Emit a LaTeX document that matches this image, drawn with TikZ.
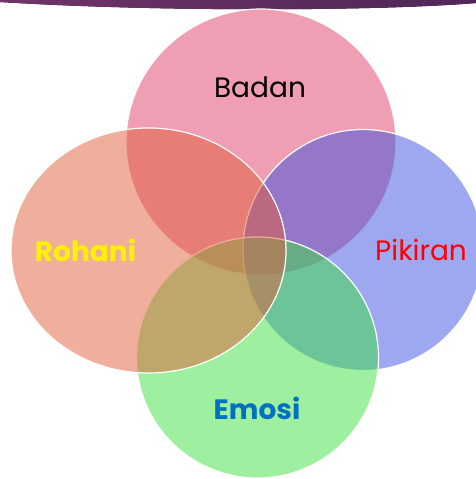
\documentclass[tikz,border=0pt]{standalone}
\usepackage{fontspec}
\setmainfont{Poppins}
\usetikzlibrary{shapes.geometric}
\definecolor{bandleft}{RGB}{112,52,104}
\definecolor{bandright}{RGB}{80,38,88}
\definecolor{badanfill}{RGB}{225,61,105}
\definecolor{rohanifill}{RGB}{225,93,57}
\definecolor{pikiranfill}{RGB}{59,81,225}
\definecolor{emosifill}{RGB}{61,225,65}
\definecolor{emosiblue}{RGB}{0,112,192}
\begin{document}
\begin{tikzpicture}[x=1pt, y=-1pt]
\tikzstyle{setshape}=[ellipse, draw=white, line width=1.2pt, fill opacity=0.5, inner sep=0pt, outer sep=0pt]
\tikzstyle{setlabel}=[font=\fontsize{28}{30}\selectfont, inner sep=0pt]
\useasboundingbox (0,0) rectangle (476,479);
% band along the top
\fill[left color=bandleft, right color=bandright] (0,0) -- (476,0) -- (476,3)
      .. controls (380,11) and (160,12) .. (0,2) -- cycle;
% the four sets
\node[setshape, fill=badanfill, minimum width=270pt, minimum height=266pt] (badan) at (261,142) {};
\node[setshape, fill=pikiranfill, minimum width=240pt, minimum height=241pt] (pikiran) at (363,250) {};
\node[setshape, fill=emosifill, minimum width=242pt, minimum height=241pt] (emosi) at (257.5,357.5) {};
\node[setshape, fill=rohanifill, minimum width=275pt, minimum height=245pt] (rohani) at (148.5,250.5) {};
% labels
\node[setlabel] (badanlabel) at (260,87) {Badan};
\node[setlabel, text=red] (pikiranlabel) at (421,250) {Pikiran};
\node[setlabel, text=emosiblue, font=\fontsize{28}{30}\selectfont\bfseries] (emosilabel) at (257,408) {Emosi};
\node[setlabel, text=yellow, font=\fontsize{28}{30}\selectfont\bfseries] (rohanilabel) at (85.5,250) {Rohani};
\end{tikzpicture}
\end{document}
